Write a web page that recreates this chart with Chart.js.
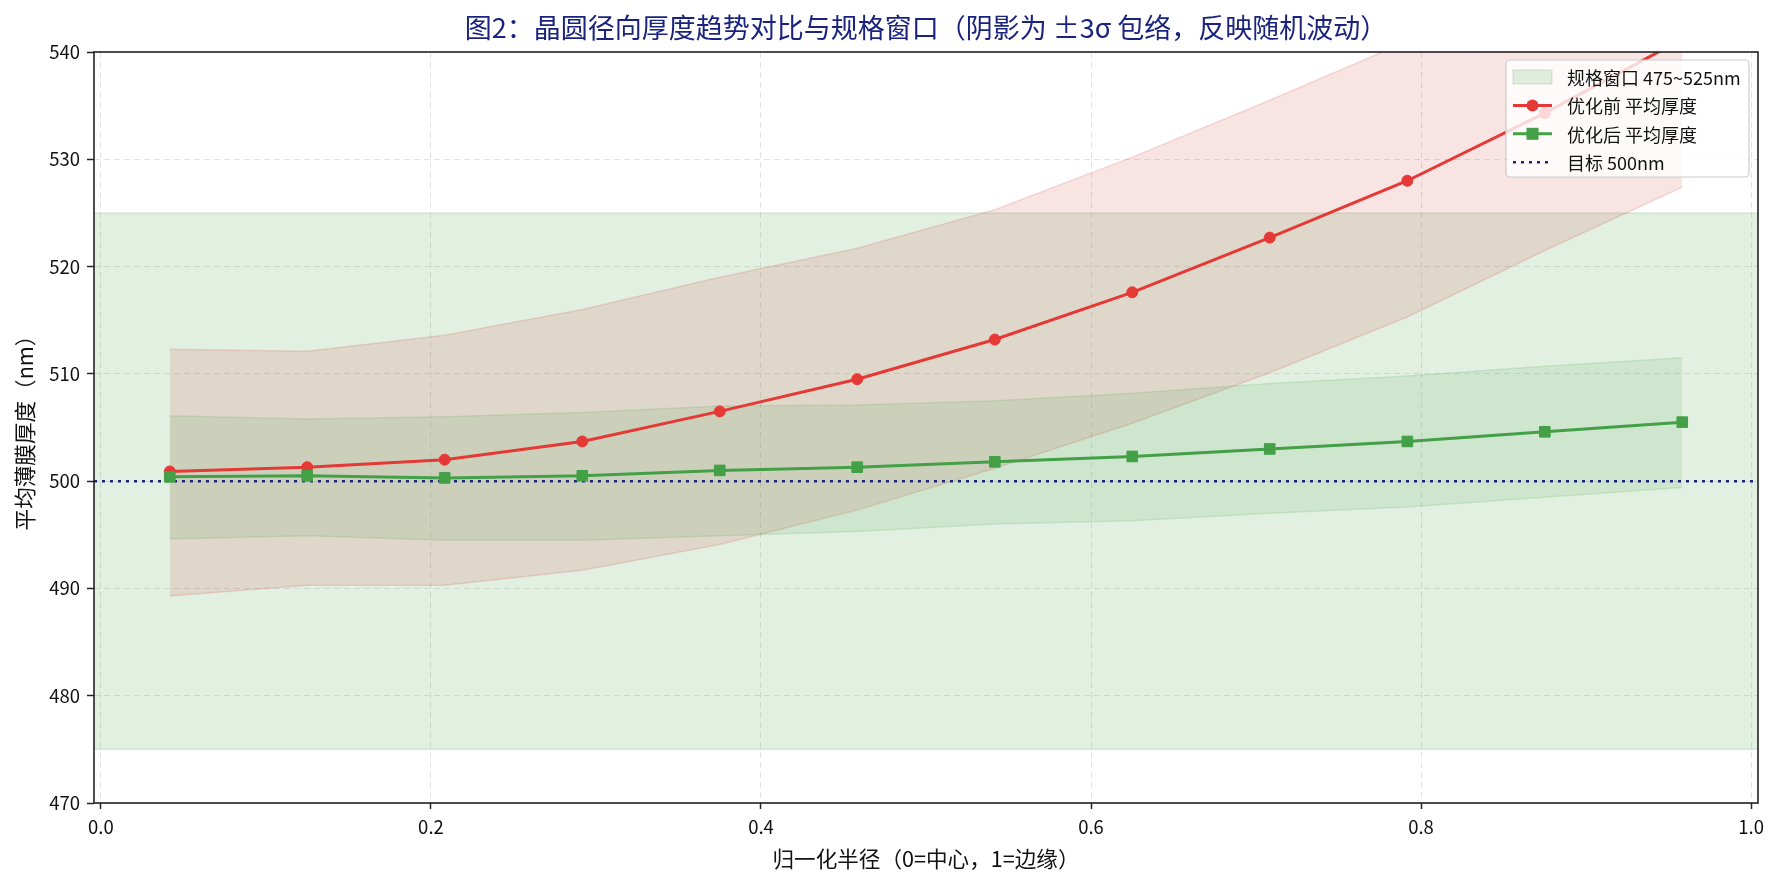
<!DOCTYPE html>
<html>
<head>
<meta charset="utf-8">
<script src="https://cdn.jsdelivr.net/npm/chart.js@4"></script>
<style>
  html, body { margin: 0; padding: 0; background: #fff; }
  #wrap { width: 1783px; height: 885px; position: relative; }
</style>
</head>
<body>
<div id="wrap"><canvas id="thicknessChart"></canvas></div>
<script>
// 归一化半径（每个环带的中心）
const radius = [0.0417, 0.125, 0.2083, 0.2917, 0.375, 0.4583, 0.5417, 0.625, 0.7083, 0.7917, 0.875, 0.9583];

// 优化前：平均厚度与 ±3σ 包络
const beforeMean  = [500.9, 501.3, 502.0, 503.7, 506.5, 509.5, 513.2, 517.6, 522.7, 528.0, 534.3, 541.2];
const beforeUpper = [512.3, 512.1, 513.6, 516.0, 519.0, 521.7, 525.3, 530.2, 535.5, 541.0, 546.8, 553.0];
const beforeLower = [489.3, 490.3, 490.3, 491.7, 494.1, 497.3, 501.2, 505.4, 510.1, 515.3, 521.5, 527.4];

// 优化后：平均厚度与 ±3σ 包络
const afterMean  = [500.4, 500.5, 500.3, 500.5, 501.0, 501.3, 501.8, 502.3, 503.0, 503.7, 504.6, 505.5];
const afterUpper = [506.1, 505.8, 506.0, 506.4, 507.0, 507.1, 507.5, 508.2, 509.1, 509.8, 510.7, 511.5];
const afterLower = [494.6, 494.9, 494.5, 494.5, 494.9, 495.3, 496.0, 496.3, 497.0, 497.6, 498.5, 499.4];

// 规格窗口与目标
const specWindow = [475, 525];
const targetValue = 500;

// 坐标轴范围与刻度
const xRange = [-0.0042, 1.0042];
const yRange = [470, 540];
const xTicks = [0, 0.2, 0.4, 0.6, 0.8, 1.0];

const RED = "#e53935";
const GREEN = "#43a047";
const NAVY = "#1a237e";
const FONT = "'Noto Sans CJK SC', 'Noto Sans', sans-serif";

const pts = (ys) => radius.map((x, i) => ({ x: x, y: ys[i] }));
const across = (y) => [{ x: xRange[0], y: y }, { x: xRange[1], y: y }];

// 四周边框
const spinesPlugin = {
    id: "spines",
    afterDatasetsDraw(chart) {
        const { ctx, chartArea: a } = chart;
        ctx.save();
        ctx.strokeStyle = "#222";
        ctx.lineWidth = 1.6;
        ctx.strokeRect(a.left, a.top, a.right - a.left, a.bottom - a.top);
        ctx.restore();
    }
};

// 标题（居中于绘图区）
const titlePlugin = {
    id: "axesTitle",
    afterDraw(chart) {
        const { ctx, chartArea: a } = chart;
        ctx.save();
        ctx.font = "27px " + FONT;
        ctx.fillStyle = NAVY;
        ctx.textAlign = "center";
        ctx.textBaseline = "middle";
        ctx.fillText("图2：晶圆径向厚度趋势对比与规格窗口（阴影为 ±3σ 包络，反映随机波动）", (a.left + a.right) / 2, 28);
        ctx.restore();
    }
};

// 图例（绘图区右上角内部）
const legendPlugin = {
    id: "insideLegend",
    afterDraw(chart) {
        const { ctx, chartArea: a } = chart;
        const w = 243, h = 117;
        const x0 = a.right - 9 - w, y0 = a.top + 8;
        ctx.save();
        ctx.beginPath();
        ctx.roundRect(x0, y0, w, h, 4);
        ctx.fillStyle = "rgba(255,255,255,0.8)";
        ctx.fill();
        ctx.strokeStyle = "#cccccc";
        ctx.lineWidth = 1.2;
        ctx.stroke();

        const hx1 = x0 + 7, hx2 = x0 + 46, tx = x0 + 61;
        const rowY = (i) => y0 + 17 + i * 28.4;
        const labels = ["规格窗口 475~525nm", "优化前 平均厚度", "优化后 平均厚度", "目标 500nm"];

        // 规格窗口
        ctx.fillStyle = "rgba(67,160,71,0.16)";
        ctx.strokeStyle = "rgba(67,160,71,0.22)";
        ctx.lineWidth = 1;
        ctx.fillRect(hx1, rowY(0) - 7, hx2 - hx1, 14);
        ctx.strokeRect(hx1, rowY(0) - 7, hx2 - hx1, 14);

        // 优化前
        ctx.strokeStyle = RED;
        ctx.lineWidth = 3;
        ctx.beginPath(); ctx.moveTo(hx1, rowY(1)); ctx.lineTo(hx2, rowY(1)); ctx.stroke();
        ctx.fillStyle = RED;
        ctx.beginPath(); ctx.arc((hx1 + hx2) / 2, rowY(1), 6, 0, Math.PI * 2); ctx.fill();

        // 优化后
        ctx.strokeStyle = GREEN;
        ctx.beginPath(); ctx.moveTo(hx1, rowY(2)); ctx.lineTo(hx2, rowY(2)); ctx.stroke();
        ctx.fillStyle = GREEN;
        ctx.fillRect((hx1 + hx2) / 2 - 6, rowY(2) - 6, 12, 12);

        // 目标
        ctx.strokeStyle = NAVY;
        ctx.lineWidth = 2.5;
        ctx.setLineDash([3, 5]);
        ctx.beginPath(); ctx.moveTo(hx1, rowY(3)); ctx.lineTo(hx2, rowY(3)); ctx.stroke();
        ctx.setLineDash([]);

        ctx.font = "18px " + FONT;
        ctx.fillStyle = "#111";
        ctx.textAlign = "left";
        ctx.textBaseline = "middle";
        labels.forEach((t, i) => ctx.fillText(t, tx, rowY(i) + 1));
        ctx.restore();
    }
};

const ctx = document.getElementById("thicknessChart").getContext("2d");
new Chart(ctx, {
    type: "line",
    data: {
        datasets: [
            {
                label: "优化前 平均厚度",
                data: pts(beforeMean),
                borderColor: RED,
                backgroundColor: RED,
                borderWidth: 3,
                pointStyle: "circle",
                pointRadius: 5.5,
                pointBorderWidth: 1,
                fill: false,
                order: 2
            },
            {
                label: "优化后 平均厚度",
                data: pts(afterMean),
                borderColor: GREEN,
                backgroundColor: GREEN,
                borderWidth: 3,
                pointStyle: "rect",
                pointRadius: 7.5,
                pointBorderWidth: 1,
                fill: false,
                order: 1
            },
            {
                label: "目标 500nm",
                data: across(targetValue),
                borderColor: NAVY,
                borderWidth: 2.5,
                borderDash: [3, 5],
                pointRadius: 0,
                fill: false,
                order: 3
            },
            {
                label: "规格窗口 475~525nm",
                data: across(specWindow[1]),
                borderColor: "rgba(67,160,71,0.18)",
                backgroundColor: "rgba(67,160,71,0.155)",
                borderWidth: 1.5,
                pointRadius: 0,
                fill: "+1",
                order: 10
            },
            {
                data: across(specWindow[0]),
                borderColor: "rgba(67,160,71,0.18)",
                borderWidth: 1.5,
                pointRadius: 0,
                fill: false,
                order: 10
            },
            {
                data: pts(beforeUpper),
                borderColor: "rgba(211,47,47,0.16)",
                backgroundColor: "rgba(211,47,47,0.13)",
                borderWidth: 1.5,
                pointRadius: 0,
                fill: "+1",
                order: 8
            },
            {
                data: pts(beforeLower),
                borderColor: "rgba(211,47,47,0.16)",
                borderWidth: 1.5,
                pointRadius: 0,
                fill: false,
                order: 8
            },
            {
                data: pts(afterUpper),
                borderColor: "rgba(67,160,71,0.16)",
                backgroundColor: "rgba(67,160,71,0.13)",
                borderWidth: 1.5,
                pointRadius: 0,
                fill: "+1",
                order: 6
            },
            {
                data: pts(afterLower),
                borderColor: "rgba(67,160,71,0.16)",
                borderWidth: 1.5,
                pointRadius: 0,
                fill: false,
                order: 6
            }
        ]
    },
    options: {
        responsive: true,
        maintainAspectRatio: false,
        animation: false,
        layout: { padding: { top: 52, right: 25, left: 0, bottom: 0 } },
        plugins: {
            legend: { display: false },
            title: { display: false },
            tooltip: { enabled: false }
        },
        elements: { line: { tension: 0 } },
        scales: {
            x: {
                type: "linear",
                min: xRange[0],
                max: xRange[1],
                afterBuildTicks: (scale) => { scale.ticks = xTicks.map(v => ({ value: v })); },
                afterFit: (scale) => { scale.height = 82; },
                ticks: {
                    callback: (v) => Number(v).toFixed(1),
                    font: { family: FONT, size: 18.5 },
                    color: "#111",
                    padding: 7,
                    maxRotation: 0
                },
                grid: {
                    color: "rgba(0,0,0,0.11)",
                    lineWidth: 1,
                    tickLength: 6,
                    tickColor: "#222",
                    tickWidth: 1.5
                },
                border: { display: false, dash: [6, 4] },
                title: {
                    display: true,
                    text: "归一化半径（0=中心，1=边缘）",
                    font: { family: FONT, size: 21.6 },
                    color: "#111",
                    padding: { top: 0, bottom: 13 }
                }
            },
            y: {
                min: yRange[0],
                max: yRange[1],
                afterFit: (scale) => { scale.width = 94; },
                ticks: {
                    stepSize: 10,
                    font: { family: FONT, size: 18.5 },
                    color: "#111",
                    padding: 7
                },
                grid: {
                    color: "rgba(0,0,0,0.11)",
                    lineWidth: 1,
                    tickLength: 7,
                    tickColor: "#222",
                    tickWidth: 1.5
                },
                border: { display: false, dash: [6, 4] },
                title: {
                    display: true,
                    text: "平均薄膜厚度（nm）",
                    font: { family: FONT, size: 21.6 },
                    color: "#111",
                    padding: { top: 12, bottom: 0 }
                }
            }
        }
    },
    plugins: [spinesPlugin, titlePlugin, legendPlugin]
});
</script>
</body>
</html>
